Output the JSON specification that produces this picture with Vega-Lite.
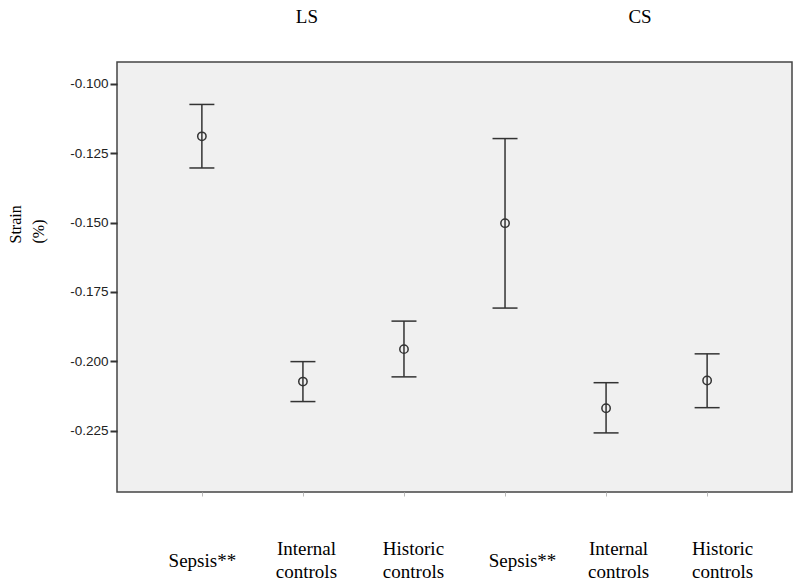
{
  "$schema": "https://vega.github.io/schema/vega-lite/v6.json",
  "width": 675,
  "height": 430,
  "autosize": {"type": "none"},
  "padding": {"left": 117, "top": 62, "right": 8, "bottom": 96},
  "background": "white",
  "config": {
    "view": {"fill": "#f0f0f0", "stroke": "#444444", "strokeWidth": 1.5}
  },
  "data": {
    "values": [
      {"cat": "LS|Sepsis**", "mean": -0.1189, "lo": -0.1303, "hi": -0.1074},
      {"cat": "LS|Internal|controls", "mean": -0.2073, "lo": -0.2145, "hi": -0.2001},
      {"cat": "LS|Historic|controls", "mean": -0.1956, "lo": -0.2056, "hi": -0.1855},
      {"cat": "CS|Sepsis**", "mean": -0.1502, "lo": -0.1808, "hi": -0.1197},
      {"cat": "CS|Internal|controls", "mean": -0.2169, "lo": -0.2258, "hi": -0.2077},
      {"cat": "CS|Historic|controls", "mean": -0.2069, "lo": -0.2167, "hi": -0.1973}
    ]
  },
  "encoding": {
    "x": {
      "field": "cat",
      "type": "nominal",
      "sort": null,
      "scale": {
        "type": "point",
        "padding": 0.84,
        "domain": ["LS|Sepsis**", "LS|Internal|controls", "LS|Historic|controls", "CS|Sepsis**", "CS|Internal|controls", "CS|Historic|controls"]
      },
      "axis": {
        "title": null,
        "labelExpr": "slice(split(datum.label, '|'), 1)",
        "labelFont": "Liberation Serif",
        "labelFontSize": 19,
        "labelColor": "black",
        "labelAngle": 0,
        "labelBaseline": "middle",
        "labelLineHeight": 23,
        "labelPadding": {"expr": "indexof(datum.value, 'Sepsis') >= 0 ? 64 : 52"},
        "labelOffset": {"expr": "datum.value == 'LS|Sepsis**' ? 0 : datum.value == 'LS|Internal|controls' ? 3 : datum.value == 'LS|Historic|controls' ? 9 : datum.value == 'CS|Sepsis**' ? 17 : datum.value == 'CS|Internal|controls' ? 12 : 15"},
        "tickSize": 4,
        "tickColor": "#bbbbbb",
        "domain": false,
        "grid": false
      }
    }
  },
  "layer": [
    {
      "mark": {"type": "rule", "color": "#333333", "strokeWidth": 1.5},
      "encoding": {
        "y": {
          "field": "lo",
          "type": "quantitative",
          "scale": {"domain": [-0.2471, -0.0921], "nice": false, "zero": false},
          "axis": {
            "values": [-0.1, -0.125, -0.15, -0.175, -0.2, -0.225],
            "format": ".3f",
            "labelExpr": "replace(datum.label, '\u2212', '-')",
            "grid": false,
            "domain": false,
            "tickSize": 7,
            "tickWidth": 2,
            "tickColor": "#333333",
            "labelFont": "Liberation Sans",
            "labelFontSize": 13.5,
            "labelColor": "#222222",
            "labelPadding": 2,
            "title": ["Strain", "(%)"],
            "titleFont": "Liberation Serif",
            "titleFontSize": 16,
            "titleFontWeight": "normal",
            "titleColor": "black",
            "titleLineHeight": 23,
            "titleAngle": 270,
            "titleAlign": "left",
            "titleBaseline": "top",
            "titleX": -110,
            "titleY": 181
          }
        },
        "y2": {"field": "hi"}
      }
    },
    {
      "mark": {"type": "tick", "orient": "horizontal", "size": 25, "thickness": 1.5, "color": "#333333", "opacity": 1},
      "encoding": {"y": {"field": "hi", "type": "quantitative"}}
    },
    {
      "mark": {"type": "tick", "orient": "horizontal", "size": 25, "thickness": 1.5, "color": "#333333", "opacity": 1},
      "encoding": {"y": {"field": "lo", "type": "quantitative"}}
    },
    {
      "mark": {"type": "point", "shape": "circle", "filled": false, "size": 70, "strokeWidth": 1.5, "color": "#333333", "opacity": 1},
      "encoding": {"y": {"field": "mean", "type": "quantitative"}}
    },
    {
      "data": {"values": [{"cat": "LS|Internal|controls", "t": "LS"}]},
      "mark": {"type": "text", "font": "Liberation Serif", "fontSize": 19, "color": "black", "baseline": "middle", "dx": 4},
      "encoding": {"y": {"value": -45}, "text": {"field": "t"}}
    },
    {
      "data": {"values": [{"cat": "CS|Internal|controls", "t": "CS"}]},
      "mark": {"type": "text", "font": "Liberation Serif", "fontSize": 19, "color": "black", "baseline": "middle", "dx": 34},
      "encoding": {"y": {"value": -45}, "text": {"field": "t"}}
    }
  ]
}
